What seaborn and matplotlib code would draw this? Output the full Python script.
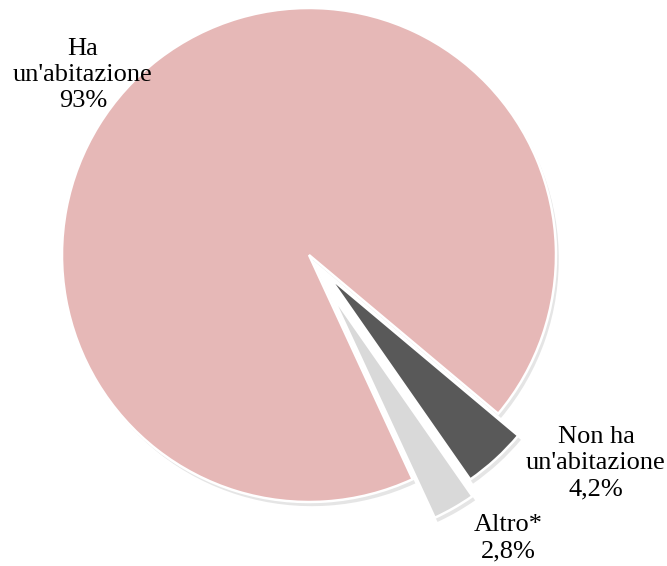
import numpy as np
import pandas as pd
import matplotlib
matplotlib.use("Agg")
import matplotlib.pyplot as plt
import matplotlib.patheffects as pe
import seaborn as sns

# dati (ordine di disegno: in senso orario a partire dalla fetta scura)
categorie = ["Non ha\nun'abitazione", "Altro*", "Ha\nun'abitazione"]
valori = [4.2, 2.8, 93.0]
etichette_pct = ["4,2%", "2,8%", "93%"]
colori = ["#595959", "#D9D9D9", "#E6B8B7"]
esplosione = [0.12, 0.18, 0.0]

# posizioni delle etichette (unità = raggio)
pos_etichette = [(1.162, -0.842), (0.806, -1.146), (-0.915, 0.729)]

sns.set_theme(style="white")
plt.rcParams['font.family'] = ['Liberation Serif', 'DejaVu Serif']

fig = plt.figure(figsize=(6.67, 5.66), dpi=100)
ax = fig.add_axes([0, 0, 1, 1])

wedges, _ = ax.pie(valori, colors=colori, explode=esplosione, startangle=-40,
                   counterclock=False,
                   wedgeprops=dict(edgecolor="white", linewidth=1.8))
for w in wedges:
    w.set_path_effects([pe.SimplePatchShadow(offset=(2, -3), shadow_rgbFace="#aaaaaa", alpha=0.3),
                        pe.Normal()])

for cat, pct, (x, y) in zip(categorie, etichette_pct, pos_etichette):
    ax.text(x, y, f"{cat}\n{pct}", ha="center", va="center", fontsize=19,
            linespacing=1.25, color="black")

ax.set_xlim(-309 / 247, (667 - 309) / 247)
ax.set_ylim((255 - 566) / 247, 255 / 247)
ax.set_aspect("auto")
ax.axis("off")

fig.savefig("out.png", dpi=100)
